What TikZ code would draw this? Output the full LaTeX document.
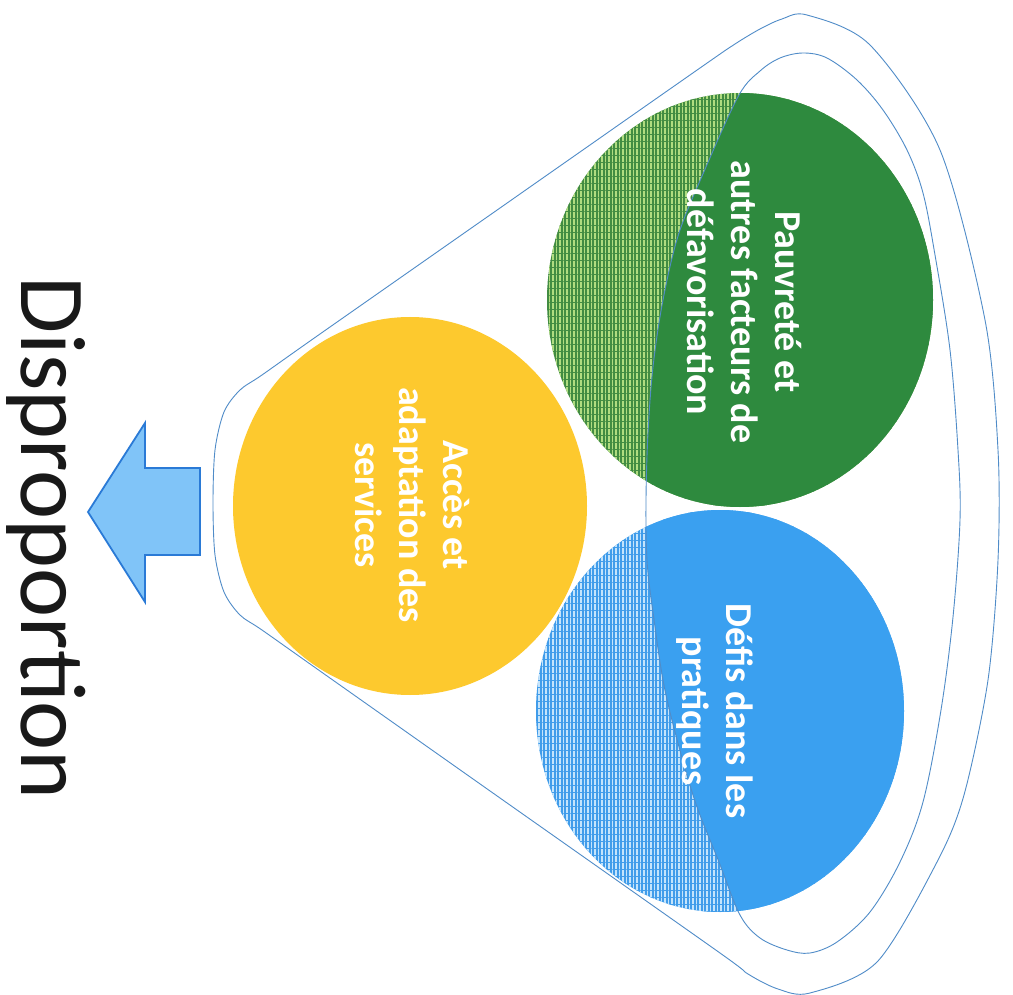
\documentclass[tikz,border=0pt]{standalone}
\usepackage{fontspec}
\setmainfont{Carlito}
\usetikzlibrary{patterns.meta}
\definecolor{grn}{RGB}{46,138,62}
\definecolor{grnbase}{RGB}{66,140,66}
\definecolor{grnline}{RGB}{176,220,128}
\definecolor{blu}{RGB}{58,160,240}
\definecolor{blubase}{RGB}{64,156,234}
\definecolor{bluline}{RGB}{196,228,252}
\definecolor{yel}{RGB}{253,201,46}
\definecolor{funnelcol}{RGB}{80,140,200}
\definecolor{arrowfill}{RGB}{128,196,248}
\definecolor{arrowdraw}{RGB}{42,122,214}
\begin{document}
\begin{tikzpicture}[x=1pt,y=-1pt,
  funnel/.style={draw=funnelcol, line width=0.9pt},
  hatch/.style={pattern={Lines[angle=90, distance=3.5pt, line width=1.5pt]}},
  hatchb/.style={pattern={Lines[angle=0, distance=7pt, line width=0.8pt]}},
  lbl/.style={text=white, font=\fontsize{38}{44}\selectfont\bfseries, align=center, rotate=-90},
  blockarrow/.style={fill=arrowfill, draw=arrowdraw, line width=1.8pt, line join=miter}]
\useasboundingbox (0,0) rectangle (1013,995);
\fill[white] (0,0) rectangle (1013,995);

\def\innerpath{plot[smooth cycle, tension=0.55] coordinates {
 (646,500) (648,433) (653,367) (663,300) (679,233) (706,167) (739,95)
 (760,71) (780,58) (803,53) (827,58) (857,80) (883,110) (907,150)
 (923,193) (935,255) (950,350) (958,450) (960,520) (953,617) (941,710)
 (923,802) (900,862) (870,912) (837,942) (810,953) (787,950) (760,938)
 (740,915) (719,862) (693,795) (666,695) (653,612) (647,560)}}

% yellow circle
\fill[yel] (410,506) ellipse [x radius=177, y radius=189];

% green circle: hatched part then solid part
\fill[grnbase] (740,300) ellipse [x radius=193, y radius=207];
\fill[hatch, pattern color=grnline] (740,300) ellipse [x radius=193, y radius=207];
\fill[hatchb, pattern color=grnbase] (740,300) ellipse [x radius=193, y radius=207];
\begin{scope}
  \clip \innerpath;
  \fill[grn] (740,300) ellipse [x radius=193, y radius=207];
\end{scope}

% blue circle: hatched part then solid part
\fill[blubase] (720,711) ellipse [x radius=184, y radius=201];
\fill[hatch, pattern color=bluline] (720,711) ellipse [x radius=184, y radius=201];
\fill[hatchb, pattern color=blubase] (720,711) ellipse [x radius=184, y radius=201];
\begin{scope}
  \clip \innerpath;
  \fill[blu] (720,711) ellipse [x radius=184, y radius=201];
\end{scope}

% funnel outlines
\draw[funnel] plot[smooth cycle, tension=0.5] coordinates {
 (213,503) (215,450) (224,412) (240,390) (262,375) (320,334) (500,208)
 (700,68) (735,44) (760,29) (782,19) (807,15) (870,45) (940,150)
 (985,320) (998,450) (998,560) (988,680) (964,795) (937,862)
 (877,962) (810,993) (778,989) (748,974) (720,953) (500,798) (320,671)
 (262,630) (240,615) (224,592) (215,555)};
\draw[funnel] \innerpath;

% arrow
\draw[blockarrow] (200,468) -- (145,468) -- (145,423) -- (88,512)
  -- (145,602) -- (145,555) -- (200,555) -- cycle;

% labels
\node[lbl] (poverty) at (744,302) {Pauvreté et\\autres facteurs de\\défavorisation};
\node[lbl] (access) at (412,505) {Accès et\\adaptation des\\services};
\node[lbl] (practice) at (715,711) {Défis dans les\\pratiques};
\node[rotate=-90, anchor=base, inner sep=0pt, font=\fontsize{93}{100}\selectfont, text={black!90}]
  (title) at (21,538) {Disproportion};
\end{tikzpicture}
\end{document}
